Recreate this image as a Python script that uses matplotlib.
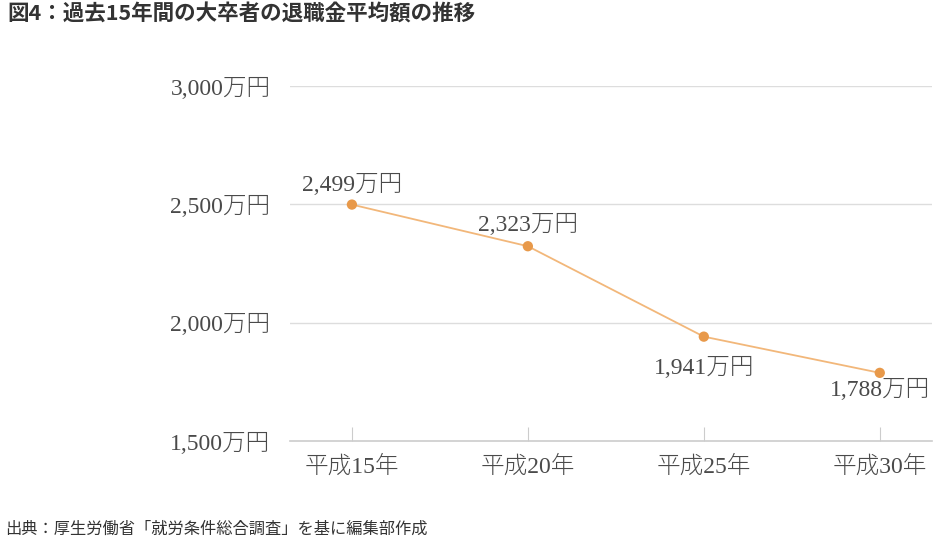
import matplotlib
matplotlib.use('Agg')
import matplotlib.pyplot as plt

plt.rcParams['font.family'] = ['Liberation Serif', 'Noto Sans CJK JP', 'DejaVu Sans']
plt.rcParams['font.weight'] = 'light'

TITLE = '図4：過去15年間の大卒者の退職金平均額の推移'
SOURCE = '出典：厚生労働省「就労条件総合調査」を基に編集部作成'
years = ['平成15年', '平成20年', '平成25年', '平成30年']
amounts = [2499, 2323, 1941, 1788]
y_ticks = [1500, 2000, 2500, 3000]
# vertical offset (pixels) of each value label from its point
label_dy = [20, 21, -31, -17]

fig = plt.figure(figsize=(9.43, 5.45), dpi=100)
ax = fig.add_axes([0.3075, 0.1908, 0.6805, 0.6514])

xs = list(range(len(years)))
ax.plot(xs, amounts, color='#f2b77a', lw=1.3, zorder=2)
ax.scatter(xs, amounts, s=55, color='#e8994a', zorder=3, edgecolors='none')

for x, v, dy in zip(xs, amounts, label_dy):
    ax.annotate(f'{v:,}万円', (x, v), xytext=(0, dy),
                textcoords='offset pixels', ha='center', va='center',
                fontsize=17, color='#4a4a4a')

ax.set_xlim(-0.352, 3.295)
ax.set_ylim(1500, 3000)
ax.set_yticks(y_ticks)
ax.set_yticklabels([f'{t:,}万円' for t in y_ticks])
ax.set_xticks(xs)
ax.set_xticklabels(years)
for t in y_ticks[1:]:
    ax.axhline(t, color='#dddddd', lw=1, zorder=1)

for s in ['top', 'right', 'left']:
    ax.spines[s].set_visible(False)
ax.spines['bottom'].set_color('#cccccc')
ax.spines['bottom'].set_linewidth(1.2)
ax.tick_params(axis='y', length=0, pad=14, labelsize=17, labelcolor='#4a4a4a')
ax.tick_params(axis='x', direction='in', length=10, color='#cccccc',
               pad=10, labelsize=17, labelcolor='#4a4a4a')

fig.text(0.008, 0.974, TITLE, ha='left', va='center', fontsize=15.5,
         fontweight='bold', color='#333333', family=['Noto Sans CJK JP', 'DejaVu Sans'])
fig.text(0.005, 0.028, SOURCE, ha='left', va='center', fontsize=11.7,
         fontweight='normal', color='#333333', family=['Noto Sans CJK JP', 'DejaVu Sans'])

fig.savefig('out.png', dpi=100)
